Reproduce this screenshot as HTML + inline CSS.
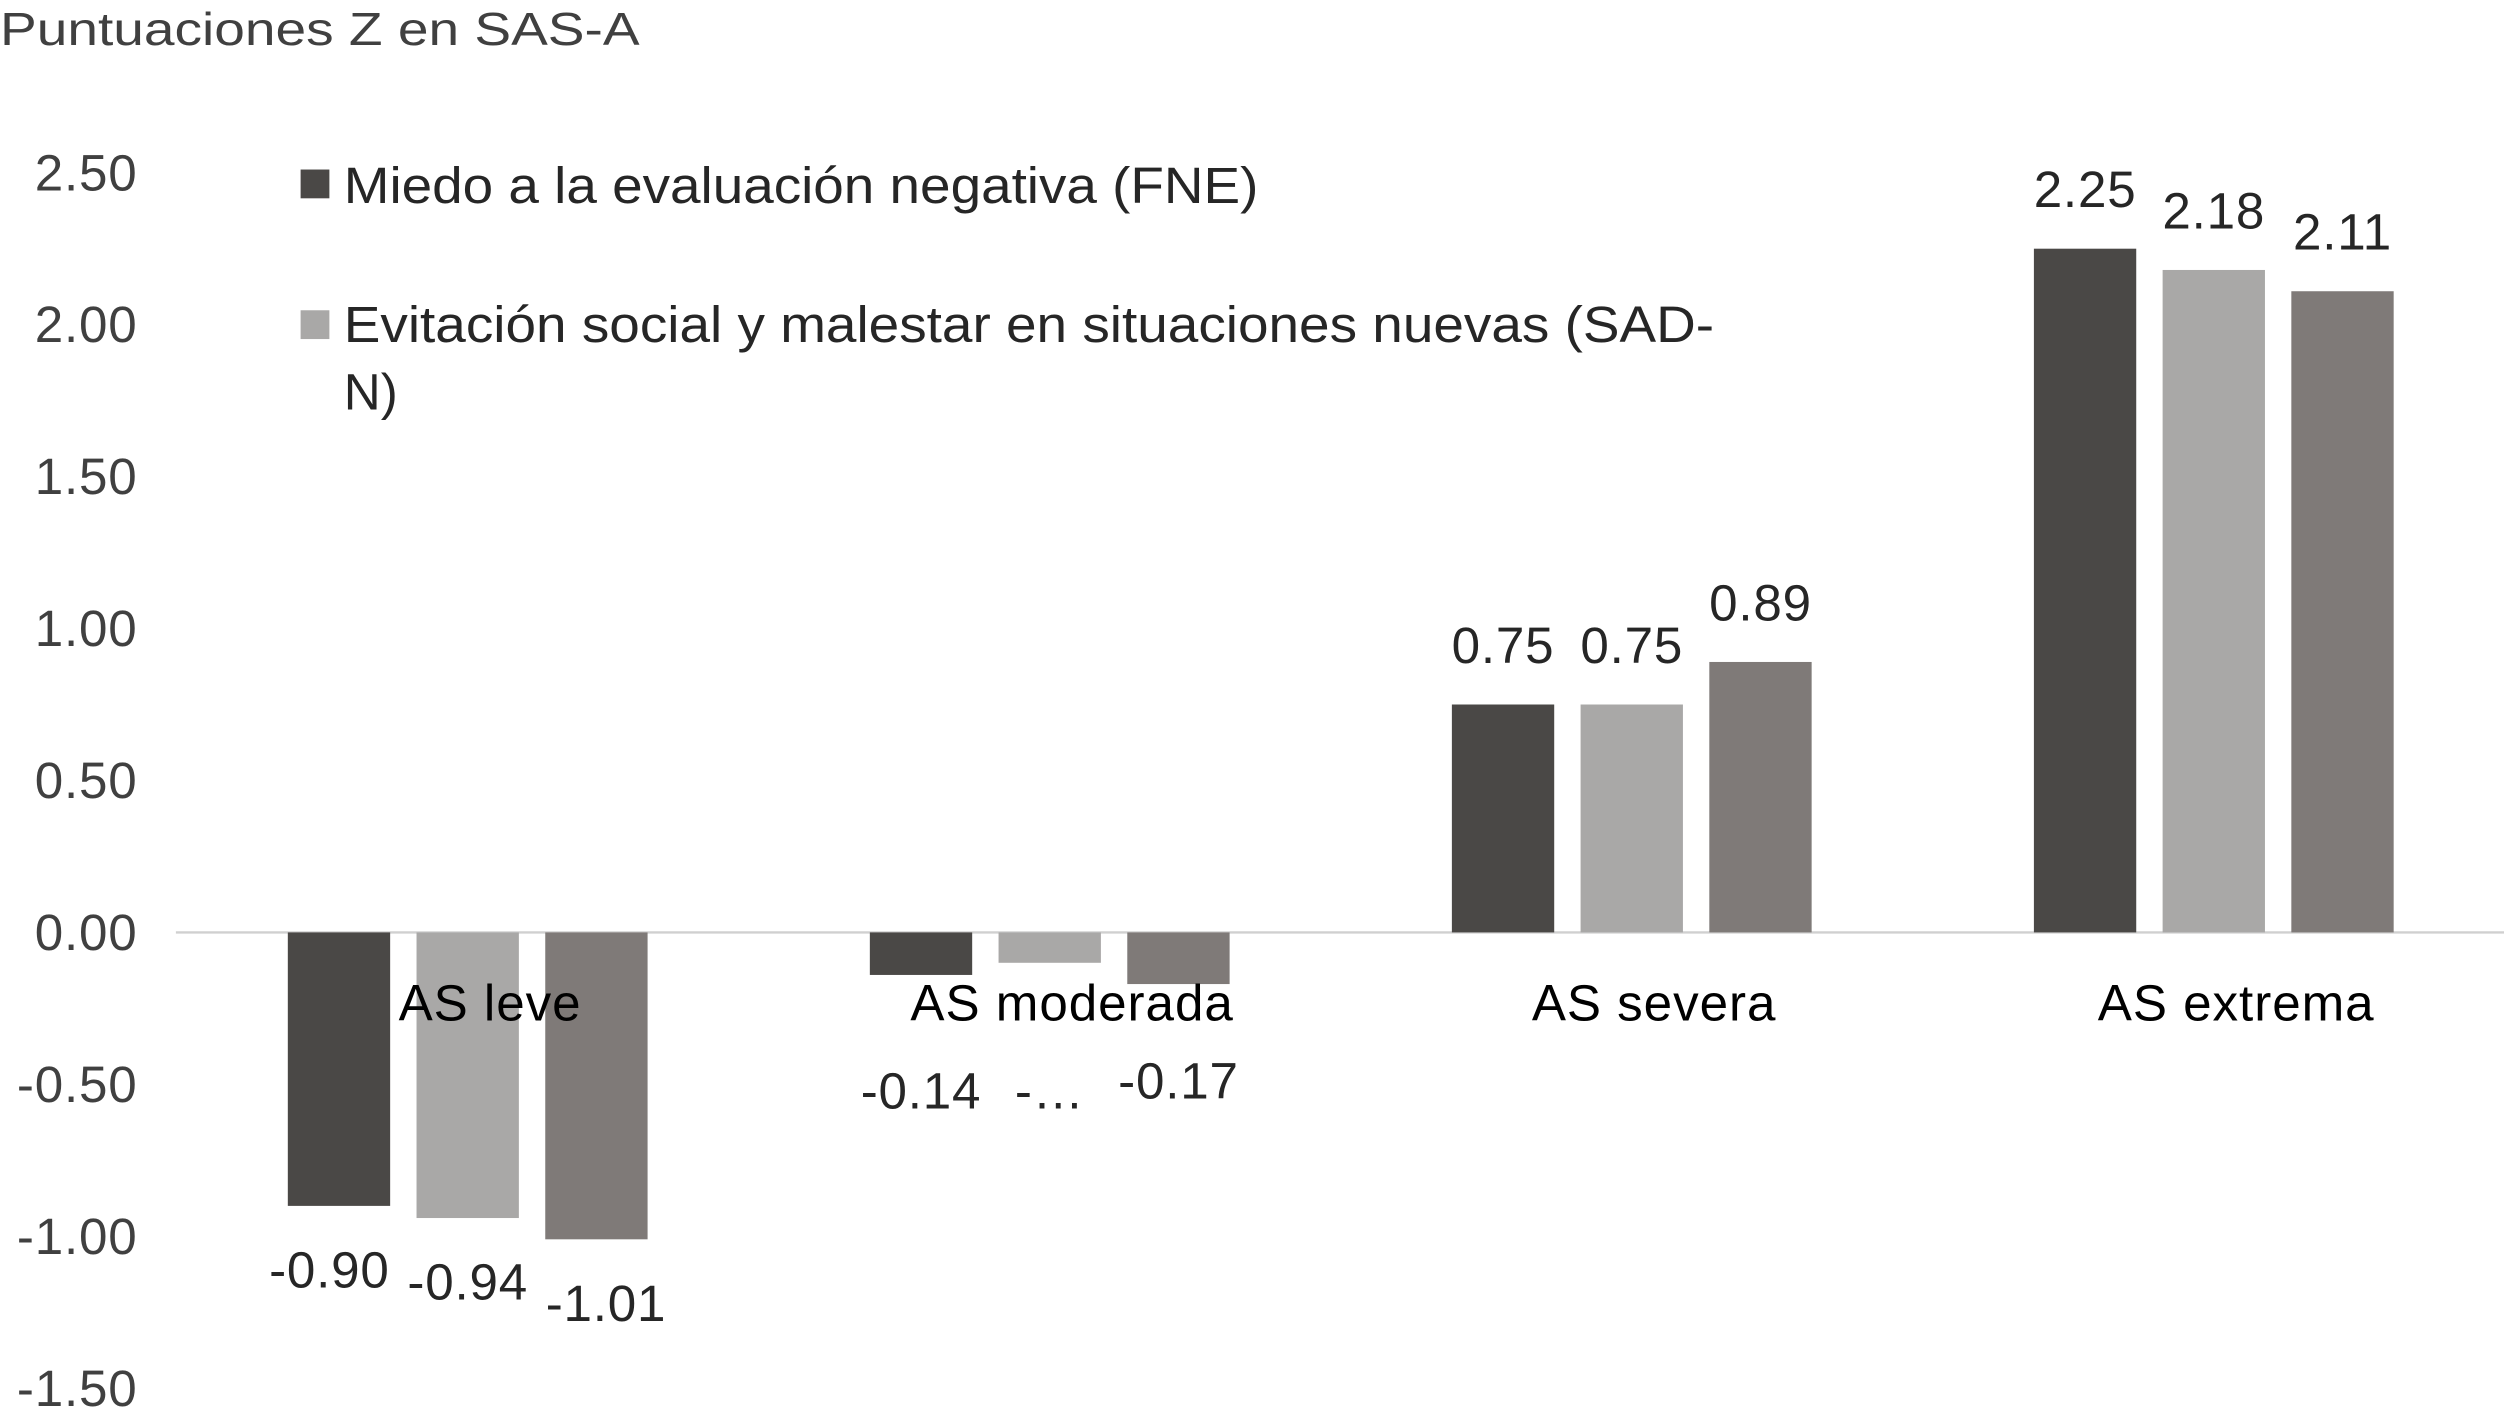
<!DOCTYPE html>
<html><head><meta charset="utf-8"><style>
html,body{margin:0;padding:0;background:#fff;}
svg{display:block;font-family:"Liberation Sans",Arial,sans-serif;}
</style></head><body>
<svg id="chart" width="2504" height="1409" viewBox="0 0 1566 881" preserveAspectRatio="none" xmlns="http://www.w3.org/2000/svg">
<text x="0" y="28" font-size="29" fill="#404040" textLength="400" lengthAdjust="spacingAndGlyphs">Puntuaciones Z en SAS-A</text>
<g>
<rect x="188" y="106" width="18" height="18" fill="#4a4846"/>
<text x="215" y="127" font-size="32" fill="#262626" textLength="572" lengthAdjust="spacingAndGlyphs">Miedo a la evaluación negativa (FNE)</text>
<rect x="188" y="194" width="18" height="18" fill="#a9a8a7"/>
<text x="215" y="214" font-size="32" fill="#262626" textLength="857" lengthAdjust="spacingAndGlyphs">Evitación social y malestar en situaciones nuevas (SAD-</text>
<text x="215" y="256" font-size="32" fill="#262626">N)</text>
</g>
<g id="yticks"></g>
<line x1="110" x2="1566" y1="583" y2="583" stroke="#d0d0d0" stroke-width="1.5"/>
<g id="bars"></g>
<g id="labels"></g>
<g id="cats"></g>
</svg>
<script>
const categories = ["AS leve","AS moderada","AS severa","AS extrema"];
const fne = [-0.90,-0.14,0.75,2.25];
const sadn = [-0.94,-0.10,0.75,2.18];
const third = [-1.01,-0.17,0.89,2.11];
const displayLabels = [["-0.90","-0.14","0.75","2.25"],["-0.94","-…","0.75","2.18"],["-1.01","-0.17","0.89","2.11"]];
const yTicks = [2.5,2.0,1.5,1.0,0.5,0.0,-0.5,-1.0,-1.5];

const NS="http://www.w3.org/2000/svg";
const y = v => 583 - v*190;
const groupX = i => 180 + i*364;
const barX = (i,s) => groupX(i) + s*80.5;
const BW = 64;
const colors = ["#4a4846","#a9a8a7","#7f7a78"];
const series = [fne,sadn,third];
const mk = (tag, attrs, parent) => { const e=document.createElementNS(NS,tag); for(const k in attrs) e.setAttribute(k,attrs[k]); parent.appendChild(e); return e; };
const yt=document.getElementById('yticks');
yTicks.forEach(t=>{
  const e=mk('text',{x:86,y:y(t)+11,'text-anchor':'end','font-size':32,fill:'#404040','letter-spacing':'0.5'},yt);
  
  
  e.textContent=t.toFixed(2);
});
const bg=document.getElementById('bars'), lg=document.getElementById('labels'), cg=document.getElementById('cats');
series.forEach((arr,s)=>{
  arr.forEach((v,i)=>{
    const top=Math.min(y(v),y(0)), h=Math.abs(y(v)-y(0));
    const r=mk('rect',{x:barX(i,s),y:top,width:BW,height:h,fill:colors[s]},bg);
    
    
    let ly = v>=0 ? y(v)-26 : Math.max(y(v)+50, 693 - (s===2?6:0));
    if(v<0 && i===0) ly = y(v)+51;
    const t=mk('text',{x:barX(i,s)+BW/2+(v<0&&i===0?(s===0?-6:s===2?6:0):0),y:ly,'text-anchor':'middle','font-size':32,fill:'#262626','letter-spacing':'0.5'},lg);
    
    
    t.textContent=displayLabels[s][i];
  });
});
categories.forEach((c,i)=>{
  const t=mk('text',{x:groupX(i)+80.5+BW/2+14,y:638,'text-anchor':'middle','font-size':32,fill:'#000','letter-spacing':'0.6'},cg);
  
  
  t.textContent=c;
});
</script>
</body></html>
